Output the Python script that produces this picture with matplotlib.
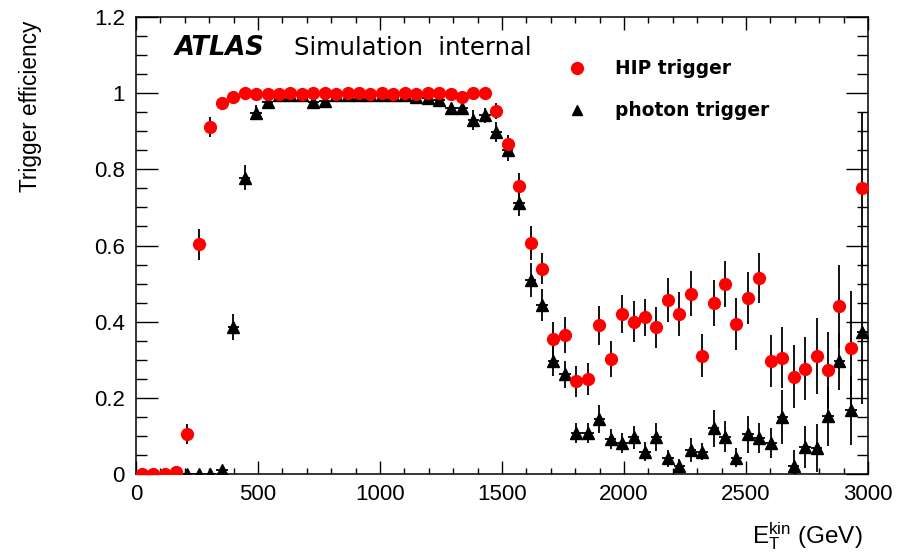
import numpy as np
import matplotlib
matplotlib.use("Agg")
import matplotlib.pyplot as plt
from matplotlib.lines import Line2D

# ---- data ----
n_bins = 64
x_min, x_max = 0.0, 3000.0

hip_eff = [0.0, 0.0, 0.0, 0.005, 0.105, 0.603, 0.911, 0.974, 0.991, 1.0,
           0.998, 0.998, 0.997, 1.0, 0.997, 1.0, 1.0, 0.999, 1.0, 1.0,
           0.999, 1.0, 0.999, 1.0, 0.997, 1.0, 1.0, 0.997, 0.989, 1.0,
           1.0, 0.953, 0.866, 0.756, 0.606, 0.539, 0.355, 0.365, 0.243, 0.249,
           0.39, 0.302, 0.42, 0.40, 0.411, 0.385, 0.457, 0.42, 0.473, 0.311,
           0.449, 0.499, 0.394, 0.462, 0.515, 0.296, 0.305, 0.256, 0.276, 0.31,
           0.272, 0.44, 0.331, 0.75]
hip_err = [0.0, 0.0, 0.0, 0.005, 0.026, 0.04, 0.026, 0.015, 0.01, 0.005,
           0.005, 0.005, 0.005, 0.005, 0.005, 0.005, 0.005, 0.005, 0.005, 0.005,
           0.005, 0.005, 0.005, 0.005, 0.005, 0.005, 0.005, 0.005, 0.006, 0.005,
           0.005, 0.02, 0.025, 0.035, 0.045, 0.04, 0.044, 0.046, 0.04, 0.042,
           0.05, 0.047, 0.05, 0.053, 0.048, 0.054, 0.058, 0.057, 0.059, 0.057,
           0.061, 0.06, 0.068, 0.068, 0.066, 0.068, 0.08, 0.083, 0.083, 0.1,
           0.1, 0.11, 0.15, 0.2]

photon_eff = [0.0, 0.0, 0.0, 0.0, 0.0, 0.0, 0.0, 0.01, 0.386, 0.778,
              0.949, 0.976, 0.995, 0.995, 0.995, 0.977, 0.98, 0.995, 0.995, 0.995,
              0.995, 0.995, 0.995, 0.995, 0.99, 0.988, 0.982, 0.96, 0.96, 0.929,
              0.942, 0.898, 0.851, 0.712, 0.51, 0.445, 0.297, 0.262, 0.107, 0.107,
              0.145, 0.092, 0.081, 0.096, 0.059, 0.098, 0.041, 0.021, 0.063, 0.059,
              0.12, 0.098, 0.043, 0.104, 0.095, 0.081, 0.15, 0.022, 0.072, 0.068,
              0.151, 0.296, 0.167, 0.373]
photon_err = [0.005, 0.005, 0.005, 0.005, 0.005, 0.005, 0.005, 0.01, 0.035, 0.033,
              0.02, 0.012, 0.005, 0.005, 0.005, 0.012, 0.01, 0.006, 0.006, 0.006,
              0.006, 0.006, 0.006, 0.006, 0.006, 0.01, 0.012, 0.015, 0.015, 0.026,
              0.02, 0.026, 0.028, 0.035, 0.044, 0.042, 0.04, 0.035, 0.026, 0.026,
              0.037, 0.027, 0.027, 0.03, 0.025, 0.037, 0.022, 0.018, 0.032, 0.022,
              0.048, 0.04, 0.025, 0.048, 0.04, 0.04, 0.07, 0.04, 0.055, 0.063,
              0.077, 0.075, 0.09, 0.19]

y_ticks = [0, 0.2, 0.4, 0.6, 0.8, 1.0, 1.2]
y_tick_labels = ["0", "0.2", "0.4", "0.6", "0.8", "1", "1.2"]
x_ticks = [0, 500, 1000, 1500, 2000, 2500, 3000]
x_tick_labels = ["0", "500", "1000", "1500", "2000", "2500", "3000"]

# ---- figure ----
W, H = 907, 555
fig = plt.figure(figsize=(W / 100, H / 100), dpi=100)
ax = fig.add_axes([136 / W, 1 - 474 / H, (868 - 136) / W, (474 - 17) / H])

edges = np.linspace(x_min, x_max, n_bins + 1)
centers = 0.5 * (edges[:-1] + edges[1:])
half_w = 0.5 * (edges[1:] - edges[:-1])

ax.errorbar(centers, photon_eff, yerr=photon_err, xerr=half_w, fmt='^',
            color='black', ms=8, mec='black', mfc='black', elinewidth=1.3,
            capsize=0, zorder=3)
ax.errorbar(centers, hip_eff, yerr=hip_err, xerr=half_w, fmt='o',
            ecolor='black', ms=8.5, mec='#ff0000', mfc='#ff0000', elinewidth=1.3,
            capsize=0, zorder=4)

ax.set_xlim(x_min, x_max)
ax.set_ylim(0, 1.2)
ax.set_xticks(x_ticks)
ax.set_xticklabels(x_tick_labels)
ax.set_yticks(y_ticks)
ax.set_yticklabels(y_tick_labels)
ax.set_xticks(np.arange(0, 3001, 100), minor=True)
ax.set_yticks(np.arange(0, 1.2001, 0.05), minor=True)

for lab in ax.get_xticklabels() + ax.get_yticklabels():
    lab.set_fontfamily('Liberation Sans')
    lab.set_fontsize(16)

ax.tick_params(axis='both', which='both', direction='in', top=True, right=True,
               width=1.0, colors='black')
ax.tick_params(axis='y', which='major', length=16, pad=8)
ax.tick_params(axis='y', which='minor', length=8)
ax.tick_params(axis='x', which='major', length=9.5, pad=7)
ax.tick_params(axis='x', which='minor', length=4.5)
for s in ax.spines.values():
    s.set_linewidth(1.1)

# axis titles
fig.text(31 / W, 1 - 21 / H, "Trigger efficiency", rotation=90, ha='center',
         va='top', fontsize=16.3, family='Liberation Sans')
fig.text(863 / W, 1 - 536 / H, r"$\mathregular{E_{T}^{kin}}$ (GeV)", ha='right',
         va='center', fontsize=17.5, family='Liberation Sans')

# ATLAS label
fig.text(175 / W, 1 - 48 / H, "ATLAS", fontsize=18.5, fontweight='bold',
         fontstyle='italic', family='DejaVu Sans', ha='left', va='center')
fig.text(294 / W, 1 - 48 / H, "Simulation  internal", fontsize=17.5,
         family='DejaVu Sans', ha='left', va='center')

# legend
fig.add_artist(Line2D([577 / W], [1 - 68 / H], marker='o', color='#ff0000',
                      ms=8.5, transform=fig.transFigure))
fig.add_artist(Line2D([577 / W], [1 - 110 / H], marker='^', color='black',
                      ms=7, transform=fig.transFigure))
fig.text(615 / W, 1 - 68 / H, "HIP trigger", fontsize=13.4, fontweight='bold',
         family='DejaVu Sans', ha='left', va='center')
fig.text(615 / W, 1 - 110 / H, "photon trigger", fontsize=13.4, fontweight='bold',
         family='DejaVu Sans', ha='left', va='center')

fig.savefig("out.png", dpi=100)
